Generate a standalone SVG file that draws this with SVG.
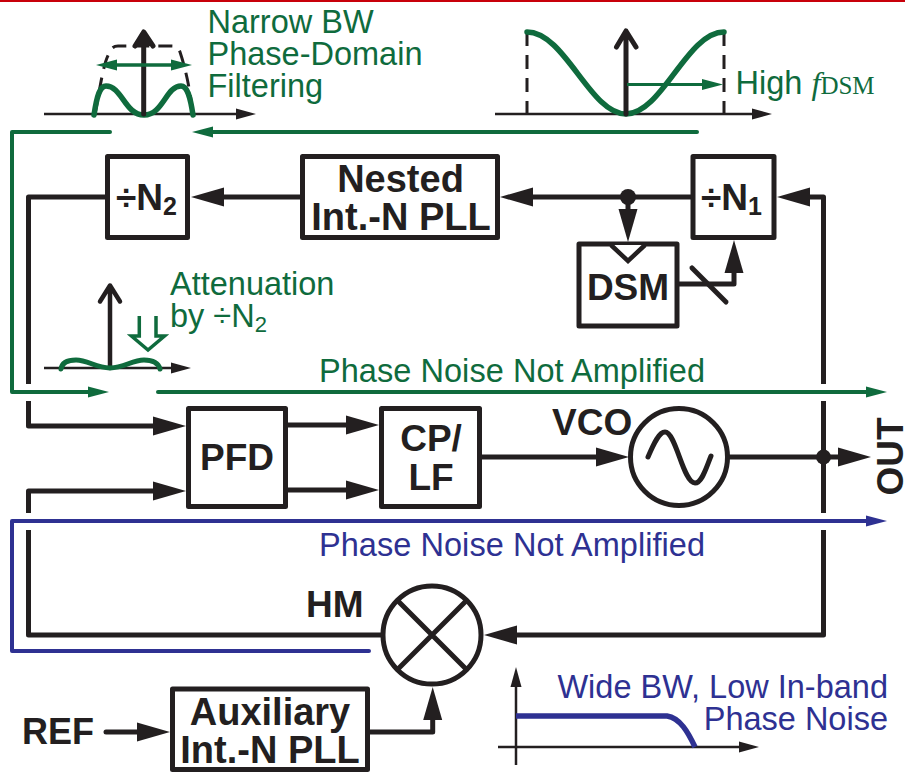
<svg xmlns="http://www.w3.org/2000/svg" width="905" height="773" viewBox="0 0 905 773">
<style>
text{font-family:"Liberation Sans",Arial,sans-serif}
.b{font-weight:bold;font-size:37px;fill:#231f20}
.n{font-size:38px}
.g{font-size:32.500px;fill:#0f6b3d}
.u{font-size:32.500px;fill:#2e3192}
.box{fill:#fff;stroke:#231f20;stroke-width:5;stroke-linejoin:round}
.k{fill:none;stroke:#231f20;stroke-width:5;stroke-linejoin:round}
.ga{fill:none;stroke:#0f6b3d;stroke-width:4;stroke-linejoin:round}
.ba{fill:none;stroke:#2e3192;stroke-width:4;stroke-linejoin:round}
.ax{fill:none;stroke:#231f20;stroke-width:2.500}
.dash{fill:none;stroke:#231f20;stroke-width:3;stroke-dasharray:14 9}
.gc{fill:none;stroke:#0f6b3d;stroke-width:5.500;stroke-linecap:round}
.ch{fill:none;stroke:#231f20;stroke-width:5;stroke-linecap:round;stroke-linejoin:round}
</style>
<defs>
<marker id="ak" markerUnits="userSpaceOnUse" markerWidth="33" markerHeight="20" refX="13" refY="10" orient="auto"><path d="M0,0.500L33,10L0,19.500z" fill="#231f20"/></marker>
<marker id="ag" markerUnits="userSpaceOnUse" markerWidth="21" markerHeight="12" refX="8" refY="6" orient="auto-start-reverse"><path d="M0,0.500L21,6L0,11.500z" fill="#0f6b3d"/></marker>
<marker id="au" markerUnits="userSpaceOnUse" markerWidth="21" markerHeight="12" refX="8" refY="6" orient="auto"><path d="M0,0.500L21,6L0,11.500z" fill="#2e3192"/></marker>
<marker id="ax" markerUnits="userSpaceOnUse" markerWidth="20" markerHeight="12" refX="8" refY="6" orient="auto"><path d="M0,0.500L20,6L0,11.500z" fill="#231f20"/></marker>
</defs>
<rect x="0" y="0" width="905" height="2" fill="#c8000a"/>

<g id="connectors">
<path class="k" d="M107,197H28.500V384"/>
<path class="k" d="M28.500,401V426H166" marker-end="url(#ak)"/>
<path class="k" d="M28.500,513V491H166" marker-end="url(#ak)"/>
<path class="k" d="M28.500,530V635H382"/>
<path class="k" d="M302,197H211" marker-end="url(#ak)"/>
<path class="k" d="M693,197H520" marker-end="url(#ak)"/>
<path class="k" d="M628,197V222" marker-end="url(#ak)"/>
<path class="k" d="M823.500,384V197H797" marker-end="url(#ak)"/>
<path class="k" d="M823.500,401V513"/>
<path class="k" d="M823.500,530V635H504" marker-end="url(#ak)"/>
<path class="k" d="M677,284H734V260" marker-end="url(#ak)"/>
<path class="k" d="M692,268L726,302" stroke-linecap="round"/>
<path class="k" d="M286,425H359" marker-end="url(#ak)"/>
<path class="k" d="M286,490H359" marker-end="url(#ak)"/>
<path class="k" d="M481,457H609" marker-end="url(#ak)"/>
<path class="k" d="M728,457H851" marker-end="url(#ak)"/>
<path class="k" d="M370,732H432.700V707" marker-end="url(#ak)"/>
<path class="k" d="M106,732H150" stroke-linecap="round" marker-end="url(#ak)"/>
<circle cx="628" cy="197" r="8" fill="#231f20"/>
<circle cx="823.500" cy="457" r="7.500" fill="#231f20"/>
<path class="ga" d="M110,132H12V392H96" stroke-linecap="round" marker-end="url(#ag)"/>
<path class="ga" d="M697,132H205" stroke-linecap="round" marker-end="url(#ag)"/>
<path class="ga" d="M158,392H874" stroke-linecap="round" marker-end="url(#ag)"/>
<path class="ba" d="M369,651H12V521H874" stroke-linecap="round" marker-end="url(#au)"/>
</g>

<g id="div-n2"><rect class="box" x="107.500" y="156.500" width="80" height="81"/><text class="b" x="116" y="210">÷N<tspan font-size="25" dy="5">2</tspan></text></g>
<g id="nested-pll"><rect class="box" x="302.500" y="156.500" width="195" height="81"/><text class="b n" x="400.500" y="192" text-anchor="middle">Nested</text><text class="b n" x="401" y="230" text-anchor="middle">Int.-N PLL</text></g>
<g id="div-n1"><rect class="box" x="693" y="156.500" width="81" height="81"/><text class="b" x="701" y="210">÷N<tspan font-size="25" dy="5">1</tspan></text></g>
<g id="dsm"><rect class="box" x="579" y="244" width="98" height="82"/><path d="M611,245L628,261L645,245" fill="#fff" stroke="#231f20" stroke-width="4.500"/><text class="b" x="628" y="300" text-anchor="middle">DSM</text></g>
<g id="pfd"><rect class="box" x="188.500" y="408.500" width="97" height="98"/><text class="b" x="237" y="470" text-anchor="middle">PFD</text></g>
<g id="cp-lf"><rect class="box" x="381.500" y="408.500" width="98" height="98"/><text class="b" x="431" y="451" text-anchor="middle">CP/</text><text class="b" x="431" y="490" text-anchor="middle">LF</text></g>
<g id="vco"><circle cx="679" cy="457" r="48.500" fill="#fff" stroke="#231f20" stroke-width="5"/><path d="M648,457C654,443 659,432 665,432C676,432 683,483 695,483C702,483 706,468 711,456" class="ch"/><text class="b" x="552" y="435">VCO</text></g>
<g id="out"><text class="b" transform="translate(903,456.500) rotate(-90)" text-anchor="middle">OUT</text></g>
<g id="hm"><circle cx="432" cy="635" r="49" fill="#fff" stroke="#231f20" stroke-width="5"/><path class="k" d="M398,601L466,669M466,601L398,669"/><text class="b" x="306" y="617">HM</text></g>
<g id="aux-pll"><rect class="box" x="172.500" y="689" width="195" height="80.500"/><text class="b n" x="270" y="725" text-anchor="middle">Auxiliary</text><text class="b n" x="270" y="762.500" text-anchor="middle">Int.-N PLL</text></g>
<g id="ref"><text class="b" x="22" y="744" style="font-size:36px">REF</text></g>

<g id="spectrum-top-left">
<path class="ax" d="M44,114H244" marker-end="url(#ax)"/>
<path class="dash" d="M95,114C100,90 103,62 110,52Q112,46 118,46H172Q178,46 180,52C186,70 190,90 193,114"/>
<path class="gc" d="M94,115C97,95 100,86 106,86C122,86 125,115 144,115C163,115 166,86 181,86C187,86 190,95 193,115"/>
<path class="ch" d="M143.700,114V33M135,46L143.700,32L153,46"/>
<path d="M135,46L143.700,32L153,46z" fill="#231f20"/>
<path d="M109,65H179" stroke="#0f6b3d" stroke-width="3.500" marker-start="url(#ag)" marker-end="url(#ag)"/>
<text class="g" x="207.500" y="33">Narrow BW</text><text class="g" x="207.500" y="65">Phase-Domain</text><text class="g" x="207.500" y="97">Filtering</text>
</g>
<g id="spectrum-top-right">
<path class="ax" d="M495,114H760" marker-end="url(#ax)"/>
<path class="dash" d="M527,32V114M724,32V114"/>
<path class="gc" d="M527,32C565,32 590,114 626,114C662,114 687,32 724,32"/>
<path class="ch" d="M626,114V33M616.500,47L626,31L636,47"/>
<path d="M627,84.500H710" stroke="#0f6b3d" stroke-width="3" marker-end="url(#ag)"/>
<text class="g" x="735.500" y="94">High <tspan font-family="'Liberation Serif',serif" font-style="italic">f</tspan><tspan font-family="'Liberation Serif',serif" font-size="25">DSM</tspan></text>
</g>
<g id="spectrum-attenuation">
<path class="ax" d="M44,368H179" marker-end="url(#ax)"/>
<path class="ch" d="M110,368V286M100,301.500L110,285.500L120,301.500" style="stroke-width:4.500"/>
<path class="gc" d="M61,369C62,362 68,360 76,360C88,360 96,368 110,368C124,368 132,360 144,360C152,360 158,362 160,369" style="stroke-width:5"/>
<path d="M139.300,316V336H131.500L148,350L164.500,336H156V316" fill="none" stroke="#0f6b3d" stroke-width="3.500"/>
<text class="g" x="170" y="295">Attenuation</text><text class="g" x="170" y="327">by ÷N<tspan font-size="22" dy="5">2</tspan></text>
</g>
<text class="g" x="319" y="382" textLength="386">Phase Noise Not Amplified</text>
<text class="u" x="319" y="556" textLength="386">Phase Noise Not Amplified</text>
<g id="spectrum-wide">
<path class="ax" d="M498,747H747" marker-end="url(#ax)"/>
<path class="ax" d="M516,765V679" marker-end="url(#ax)"/>
<path d="M516,716H667C680,718 688,732 695,747" fill="none" stroke="#2e3192" stroke-width="5.500"/>
<text class="u" x="888" y="698" text-anchor="end">Wide BW, Low In-band</text><text class="u" x="888" y="730" text-anchor="end">Phase Noise</text>
</g>
</svg>
